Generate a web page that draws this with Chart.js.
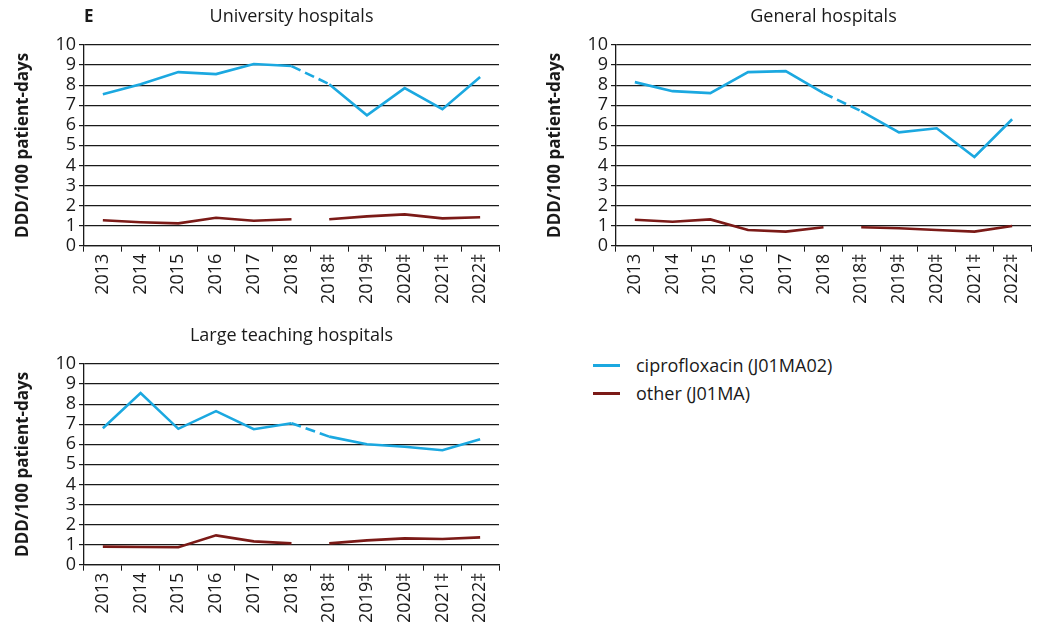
<!DOCTYPE html>
<html>
<head>
<meta charset="utf-8">
<script src="https://cdn.jsdelivr.net/npm/chart.js@4.4.1/dist/chart.umd.min.js"></script>
<style>
  body { margin: 0; background: #fff; font-family: "Open Sans", sans-serif; }
  .panel { position: absolute; width: 505px; height: 306px; }
  .legend { position: absolute; left: 593px; font-size: 18px; color: #1a1a1a; }
  .legend div { position: relative; height: 28px; line-height: 28px; padding-left: 43px; white-space: nowrap; }
  .legend span { position: absolute; left: 0; top: 13px; width: 27px; height: 3px; }
</style>
</head>
<body>
<div class="panel" style="left:0;top:0"><canvas id="c1"></canvas></div>
<div class="panel" style="left:532px;top:0"><canvas id="c2"></canvas></div>
<div class="panel" style="left:0;top:319px"><canvas id="c3"></canvas></div>
<div class="legend" style="top:351px">
  <div><span style="background:#1ba8e0"></span>ciprofloxacin (J01MA02)</div>
  <div><span style="background:#7b1a17"></span>other (J01MA)</div>
</div>
<script>
// categories (‡ = new registration method)
const years = ["2013", "2014", "2015", "2016", "2017", "2018", "2018‡", "2019‡", "2020‡", "2021‡", "2022‡"];

// DDD/100 patient-days
const univCipro = [7.55, 8.05, 8.65, 8.55, 9.05, 8.95, 8.05, 6.5, 7.85, 6.8, 8.4];
const univOther = [1.27, 1.17, 1.11, 1.39, 1.24, 1.32, 1.32, 1.46, 1.56, 1.36, 1.42];

const genCipro = [8.15, 7.7, 7.6, 8.65, 8.7, 7.6, 6.7, 5.65, 5.85, 4.42, 6.3];
const genOther = [1.29, 1.19, 1.31, 0.78, 0.7, 0.92, 0.92, 0.87, 0.78, 0.7, 0.98];

const teachCipro = [6.8, 8.55, 6.77, 7.65, 6.75, 7.05, 6.38, 6.0, 5.88, 5.7, 6.25];
const teachOther = [0.9, 0.88, 0.87, 1.46, 1.16, 1.06, 1.06, 1.21, 1.31, 1.28, 1.36];

const yTicks = [0, 1, 2, 3, 4, 5, 6, 7, 8, 9, 10];

const CIPRO = "#1ba8e0";
const OTHER = "#7b1a17";
const FONT = "'Open Sans', sans-serif";

// title centred over the plot area, plus the panel letter
const panelTitle = {
  id: "panelTitle",
  afterDraw(chart, args, opts) {
    const { ctx, chartArea } = chart;
    ctx.save();
    ctx.fillStyle = "#1a1a1a";
    ctx.textBaseline = "alphabetic";
    ctx.textAlign = "center";
    ctx.font = "18px " + FONT;
    ctx.fillText(opts.text, (chartArea.left + chartArea.right) / 2, chartArea.top - 23);
    if (opts.letter) {
      ctx.textAlign = "left";
      ctx.font = "bold 17px " + FONT;
      ctx.fillText(opts.letter, chartArea.left, chartArea.top - 23);
    }
    ctx.restore();
  }
};

function makeChart(id, title, cipro, other, letter) {
  return new Chart(document.getElementById(id), {
    type: "line",
    data: {
      labels: years,
      datasets: [
        {
          label: "ciprofloxacin (J01MA02)",
          data: cipro,
          borderColor: CIPRO,
          borderWidth: 2.6,
          pointRadius: 0,
          tension: 0,
          segment: { borderDash: c => c.p0DataIndex === 5 ? [10, 5] : undefined }
        },
        {
          label: "other (J01MA)",
          data: other,
          borderColor: OTHER,
          borderWidth: 2.6,
          pointRadius: 0,
          tension: 0,
          segment: { borderColor: c => c.p0DataIndex === 5 ? "rgba(0,0,0,0)" : undefined }
        }
      ]
    },
    options: {
      responsive: true,
      maintainAspectRatio: false,
      animation: false,
      layout: { padding: { top: 45, right: 6, left: 13, bottom: 0 } },
      plugins: {
        legend: { display: false },
        tooltip: { enabled: false },
        panelTitle: { text: title, letter: letter }
      },
      scales: {
        x: {
          offset: true,
          grid: { offset: true, drawOnChartArea: false, color: "#1a1a1a", tickLength: 6 },
          border: { color: "#1a1a1a", width: 1.3 },
          ticks: {
            minRotation: 90, maxRotation: 90, autoSkip: false, padding: 2,
            color: "#1a1a1a", font: { family: FONT, size: 18 }
          }
        },
        y: {
          min: 0, max: 10,
          afterBuildTicks: s => { s.ticks = yTicks.map(v => ({ value: v })); },
          grid: { color: "#1a1a1a", lineWidth: 1.2, tickLength: 5 },
          border: { color: "#1a1a1a", width: 1.3 },
          ticks: { autoSkip: false, padding: 3, color: "#1a1a1a", font: { family: FONT, size: 18 } },
          title: {
            display: true,
            text: "DDD/100 patient-days",
            color: "#1a1a1a",
            font: { family: FONT, size: 17, weight: "bold" },
            padding: { top: 0, bottom: 19 }
          }
        }
      }
    },
    plugins: [panelTitle]
  });
}

makeChart("c1", "University hospitals", univCipro, univOther, "E");
makeChart("c2", "General hospitals", genCipro, genOther, null);
makeChart("c3", "Large teaching hospitals", teachCipro, teachOther, null);
</script>
</body>
</html>
